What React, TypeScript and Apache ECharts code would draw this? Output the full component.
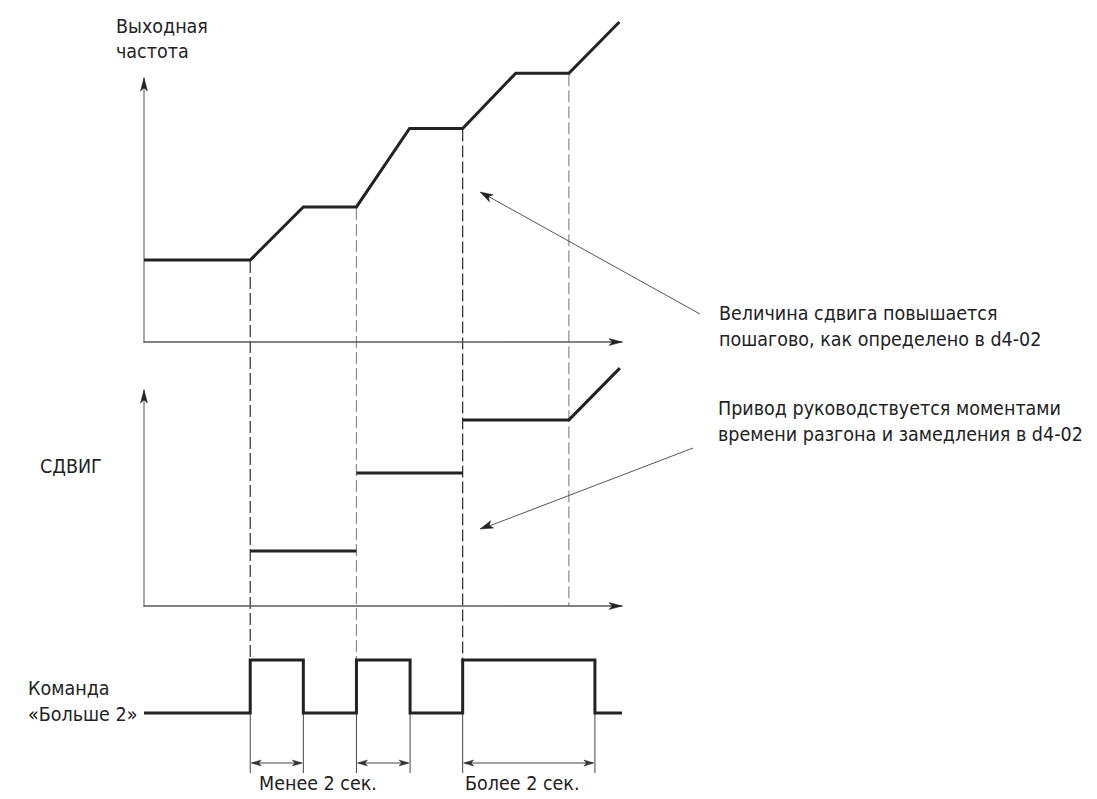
import React, { useEffect, useRef } from "react";
import * as echarts from "echarts";

// ---- data (time in arbitrary units, levels in arbitrary units) ----
const TIME_MAX = 9;
const freqTimes = [0, 2, 3, 4, 5, 6, 7, 8, 8.95];
const freqValues = [3.07, 3.07, 5.06, 5.06, 8.0, 8.0, 10.07, 10.07, 11.99];
const FREQ_AXIS_MAX = 9.89;

const offsetStarts = [2, 4, 6];
const offsetEnds = [4, 6, 8];
const offsetLevels = [2.06, 4.98, 6.97];
const offsetRampEnd = [8.96, 8.91];
const OFFSET_AXIS_MAX = 8.09;

const pulseStarts = [2, 4, 6];
const pulseEnds = [3, 5.01, 8.49];

const guideTimes = [2, 4, 6, 8];
const guideDark = [true, false, true, false];

const dimLabels = ["Менее 2 сек.", "Более 2 сек."];
const freqLabel = ["Выходная", "частота"];
const offsetLabel = "СДВИГ";
const cmdLabel = ["Команда", "«Больше 2»"];
const note1 = ["Величина сдвига повышается", "пошагово, как определено в d4-02"];
const note2 = ["Привод руководствуется моментами", "времени разгона и замедления в d4-02"];

const FONT = "'Liberation Sans Narrow', 'DejaVu Sans Condensed', 'Roboto Condensed', 'Liberation Sans', sans-serif";
const FS = 19.5;
const TXT = "#222";

function arrowHead(tx: number, ty: number, fx: number, fy: number, len: number, half: number, color: string) {
  const dx = tx - fx, dy = ty - fy;
  const d = Math.hypot(dx, dy) || 1;
  const ux = dx / d, uy = dy / d;
  const bx = tx - ux * len, by = ty - uy * len;
  const px = -uy, py = ux;
  return {
    type: "polygon",
    silent: true,
    z: 10,
    shape: {
      points: [
        [tx, ty],
        [bx + px * half, by + py * half],
        [tx - ux * len * 0.75, ty - uy * len * 0.75],
        [bx - px * half, by - py * half],
      ],
    },
    style: { fill: color, stroke: color, lineWidth: 0.5 },
  };
}

function text(str: string, x: number, y: number, align = "left") {
  return {
    type: "text",
    x,
    y,
    silent: true,
    style: {
      text: str,
      fill: TXT,
      fontSize: FS,
      fontFamily: FONT,
      align,
      verticalAlign: "middle",
    },
  };
}

export default function App() {
  const ref = useRef<HTMLDivElement>(null);
  useEffect(() => {
    document.body.style.margin = "0";
    const chart = echarts.init(ref.current!, null, { renderer: "svg" });

    const xAxis = (gridIndex: number, show: boolean) => ({
      type: "value",
      gridIndex,
      min: 0,
      max: TIME_MAX,
      show,
      axisLine: {
        show: true,
        onZero: true,
        lineStyle: { color: "#5a5a5a", width: 1.5 },
      },
      axisTick: { show: false },
      axisLabel: { show: false },
      splitLine: { show: false },
    });
    const yAxis = (gridIndex: number, max: number, show: boolean) => ({
      type: "value",
      gridIndex,
      min: 0,
      max,
      show,
      axisLine: {
        show: true,
        lineStyle: { color: "#a8a8a8", width: 2 },
      },
      axisTick: { show: false },
      axisLabel: { show: false },
      splitLine: { show: false },
    });

    const lineSeries = (xi: number, data: number[][]) => ({
      type: "line",
      xAxisIndex: xi,
      yAxisIndex: xi,
      data,
      symbol: "none",
      showSymbol: false,
      clip: false,
      silent: true,
      lineStyle: { color: "#222", width: 3, join: "miter" },
    });

    const offsetSeries = offsetStarts.map((s, i) => {
      const pts = [
        [s, offsetLevels[i]],
        [offsetEnds[i], offsetLevels[i]],
      ];
      if (i === offsetStarts.length - 1) pts.push(offsetRampEnd);
      return lineSeries(1, pts);
    });

    const cmdData: number[][] = [[0, 0]];
    pulseStarts.forEach((s, i) => {
      cmdData.push([s, 0], [s, 1], [pulseEnds[i], 1], [pulseEnds[i], 0]);
    });
    cmdData.push([TIME_MAX, 0]);

    chart.setOption({
      animation: false,
      backgroundColor: "#ffffff",
      grid: [
        { left: 144, top: 78, width: 478, height: 264, containLabel: false, outerBoundsMode: "none" },
        { left: 144, top: 390, width: 478, height: 216, containLabel: false, outerBoundsMode: "none" },
        { left: 144, top: 660, width: 478, height: 53, containLabel: false, outerBoundsMode: "none" },
      ],
      xAxis: [xAxis(0, true), xAxis(1, true), xAxis(2, false)],
      yAxis: [yAxis(0, FREQ_AXIS_MAX, true), yAxis(1, OFFSET_AXIS_MAX, true), yAxis(2, 1, false)],
      series: [
        lineSeries(0, freqTimes.map((t, i) => [t, freqValues[i]])),
        ...offsetSeries,
        lineSeries(2, cmdData),
      ],
    });

    const toPx = (gi: number, x: number, y: number) =>
      chart.convertToPixel({ gridIndex: gi } as any, [x, y]) as number[];

    const g: any[] = [];
    // axis arrowheads (black heads on grey axis lines)
    [0, 1].forEach((gi) => {
      const o = toPx(gi, 0, 0);
      const yMax = gi === 0 ? FREQ_AXIS_MAX : OFFSET_AXIS_MAX;
      const yt = toPx(gi, 0, yMax);
      const xt = toPx(gi, TIME_MAX, 0);
      g.push(arrowHead(yt[0], yt[1], o[0], o[1], 13, 3.5, "#222"));
      g.push(arrowHead(xt[0], xt[1], o[0], o[1], 13, 3.5, "#222"));
    });
    // dashed guide lines
    guideTimes.forEach((t, i) => {
      const idx = freqTimes.indexOf(t);
      const top = toPx(0, t, freqValues[idx]);
      const bottom = i < pulseStarts.length ? toPx(2, t, 1) : toPx(1, t, 0);
      g.push({
        type: "line",
        silent: true,
        shape: { x1: top[0], y1: top[1] + 1, x2: bottom[0], y2: bottom[1] },
        style: { stroke: guideDark[i] ? "#2a2a2a" : "#8a8a8a", lineWidth: 1.2, lineDash: [12, 4] },
      });
    });
    // extension + dimension lines
    pulseStarts.forEach((s, i) => {
      const a = toPx(2, s, 0);
      const b = toPx(2, pulseEnds[i], 0);
      [a, b].forEach((p) =>
        g.push({
          type: "line",
          silent: true,
          shape: { x1: p[0], y1: p[1] + 1, x2: p[0], y2: p[1] + 60 },
          style: { stroke: "#444", lineWidth: 1 },
        })
      );
      const y = a[1] + 50;
      g.push({
        type: "line",
        silent: true,
        shape: { x1: a[0] + 2, y1: y, x2: b[0] - 2, y2: y },
        style: { stroke: "#444", lineWidth: 1 },
      });
      g.push(arrowHead(a[0] + 1, y, b[0], y, 10, 3, "#333"));
      g.push(arrowHead(b[0] - 1, y, a[0], y, 10, 3, "#333"));
    });

    // annotation arrows
    g.push({ type: "line", silent: true, shape: { x1: 700, y1: 314, x2: 484, y2: 194 }, style: { stroke: "#555", lineWidth: 1 } });
    g.push(arrowHead(480, 192, 700, 314, 13, 4, "#222"));
    g.push({ type: "line", silent: true, shape: { x1: 693, y1: 448, x2: 484, y2: 528 }, style: { stroke: "#555", lineWidth: 1 } });
    g.push(arrowHead(480, 529, 693, 448, 13, 4, "#222"));

    // texts
    g.push(text(freqLabel[0], 116, 26));
    g.push(text(freqLabel[1], 116, 51));
    g.push(text(offsetLabel, 40, 466));
    g.push(text(cmdLabel[0], 28, 688));
    g.push(text(cmdLabel[1], 28, 714));
    g.push(text(note1[0], 719, 313));
    g.push(text(note1[1], 719, 339));
    g.push(text(note2[0], 718, 408));
    g.push(text(note2[1], 718, 434));
    g.push(text(dimLabels[0], 259, 783));
    g.push(text(dimLabels[1], 465, 783));

    chart.setOption({ graphic: { elements: g } });

    return () => chart.dispose();
  }, []);
  return <div ref={ref} style={{ position: "fixed", left: 0, top: 0, width: 1097, height: 799 }} />;
}
